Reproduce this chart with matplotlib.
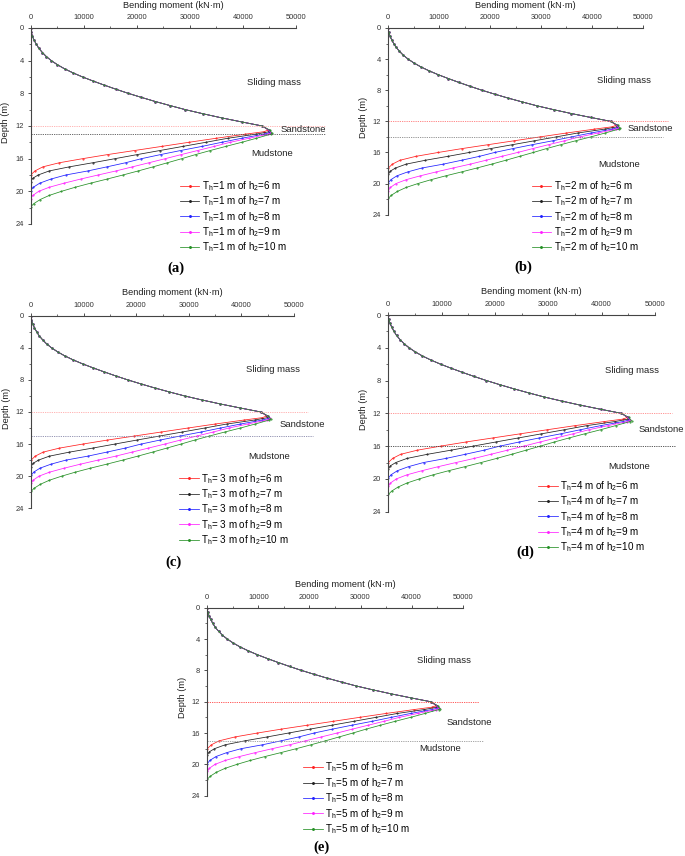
import matplotlib
matplotlib.use('Agg')
import matplotlib.pyplot as plt
from matplotlib.ticker import MultipleLocator

plt.rcParams['font.family'] = ['Liberation Sans', 'DejaVu Sans']
plt.rcParams['mathtext.fontset'] = 'custom'
plt.rcParams['mathtext.rm'] = 'Liberation Sans'
plt.rcParams['mathtext.it'] = 'Liberation Sans:italic'
plt.rcParams['mathtext.bf'] = 'Liberation Sans:bold'

# ---------------- data ----------------
# shared part of the curve in the sliding mass (depth m, moment kN·m)
upper_depth = [0, 0.5, 1, 1.5, 2, 2.5, 3, 3.5, 4, 4.5, 5, 5.5, 6, 6.5, 7, 7.5,
               8, 8.5, 9, 9.5, 10, 10.5, 11, 11.5, 12]
upper_moment = [0, 80, 320, 650, 1070, 1550, 2200, 2950, 3900, 5050, 6400, 8000,
                9800, 11800, 13900, 16100, 18400, 20900, 23500, 26300, 29200,
                32500, 36000, 39800, 43700]

h2_values = [6, 7, 8, 9, 10]
th_values = [1, 2, 3, 4, 5]
sliding_mass_bottom = 12

lower_depth_h6 = [12.5, 12.7, 13, 13.5, 14, 14.5, 15, 15.5, 16, 16.5, 17, 17.5, 18]
lower_moment_h6 = [44800, 44000, 40500, 35000, 29800, 24700, 19600, 14500, 9800, 5400, 2300, 800, 0]

lower_depth_h7 = [12.5, 12.7, 13, 13.5, 14, 14.5, 15, 15.5, 16, 16.5, 17, 17.5, 18, 18.4, 18.8]
lower_moment_h7 = [44900, 45000, 42500, 37200, 33000, 28700, 24400, 20100, 15900, 11700, 7300, 3500, 1400, 400, 0]

lower_depth_h8 = [12.5, 12.8, 13, 13.5, 14, 14.5, 15, 15.5, 16, 16.5, 17, 17.5, 18, 18.5, 19, 19.5, 19.9]
lower_moment_h8 = [45000, 45200, 44000, 39800, 36000, 32300, 28300, 24500, 20900, 17900, 14400, 10800, 6600, 3800, 1700, 500, 0]

lower_depth_h9 = [12.5, 12.8, 13, 13.5, 14, 14.5, 15, 15.5, 16, 16.5, 17, 17.5, 18, 18.5, 19, 19.5, 20, 20.5, 20.9]
lower_moment_h9 = [45000, 45400, 44800, 41200, 37600, 34600, 31500, 28400, 25400, 22300, 19200, 16100, 12700, 9400, 6300, 3500, 1500, 400, 0]

lower_depth_h10 = [12.5, 12.9, 13, 13.5, 14, 14.5, 15, 15.5, 16, 16.5, 17, 17.5, 18, 18.5, 19, 19.5, 20, 20.5, 21, 21.5, 21.9]
lower_moment_h10 = [45100, 45600, 45300, 42600, 39800, 36800, 33900, 31100, 28500, 25800, 23100, 20300, 17400, 14400, 11300, 8400, 5800, 3500, 1800, 600, 0]

lower_depths = [lower_depth_h6, lower_depth_h7, lower_depth_h8, lower_depth_h9, lower_depth_h10]
lower_moments = [lower_moment_h6, lower_moment_h7, lower_moment_h8, lower_moment_h9, lower_moment_h10]

series_colors = ['#ff2020', '#202020', '#2020ff', '#ff20ff', '#259025']

# ---------------- layout (pixels) ----------------
W, H = 685, 856
fig = plt.figure(figsize=(W / 100, H / 100), dpi=100)

panels = [
    dict(box=(30.7, 295.7, 28, 224), tag='(a)', tagpos=(176, 268), leg=(180, 185), sep='',
         notes=[(40800, 6.7), (47200, 12.4), (41700, 15.4)],
         lcol=('#ffaaaa', '#555555'), lend=(55500, 55500)),
    dict(box=(388.3, 642.7, 28, 214.7), tag='(b)', tagpos=(523, 267), leg=(531.7, 185), sep='',
         notes=[(41000, 6.8), (47100, 12.9), (41200, 17.5)],
         lcol=('#ff7777', '#888888'), lend=(55000, 54000)),
    dict(box=(31, 294, 315.7, 508.3), tag='(c)', tagpos=(173, 562), leg=(179.3, 477.7), sep=' ',
         notes=[(40800, 6.7), (47200, 13.5), (41300, 17.6)],
         lcol=('#ffaaaa', '#8888aa'), lend=(52600, 53600)),
    dict(box=(388.3, 655, 315, 511.7), tag='(d)', tagpos=(525, 552), leg=(538.3, 485), sep='',
         notes=[(40600, 6.8), (46900, 14.0), (41200, 18.5)],
         lcol=('#ff8888', '#444444'), lend=(53100, 53700)),
    dict(box=(207.3, 462.7, 607.7, 795.7), tag='(e)', tagpos=(321, 847), leg=(303.3, 766.7), sep='',
         notes=[(41000, 6.8), (46900, 14.7), (41400, 18.0)],
         lcol=('#ff4444', '#999999'), lend=(53200, 53900)),
]
note_texts = ['Sliding mass', 'Sandstone', 'Mudstone']

for p, th in zip(panels, th_values):
    x0, x1, y0, y1 = p['box']
    ax = fig.add_axes([x0 / W, 1 - y1 / H, (x1 - x0) / W, (y1 - y0) / H])
    handles = []
    for h2, ld, lm, c in zip(h2_values, lower_depths, lower_moments, series_colors):
        d = upper_depth + ld
        m = upper_moment + lm
        lab = 'T$_{\\rm h}$=' + p['sep'] + f'{th} m of h$_{{\\rm 2}}$={h2} m'
        ln, = ax.plot(m, d, color=c, lw=0.55, marker='.', markersize=1.0, label=lab)
        handles.append(ln)
    # layer boundaries
    ax.plot([0, p['lend'][0]], [sliding_mass_bottom] * 2, color=p['lcol'][0], lw=0.6,
            linestyle=(0, (1.5, 1.2)), clip_on=False)
    ax.plot([0, p['lend'][1]], [sliding_mass_bottom + th] * 2, color=p['lcol'][1], lw=0.6,
            linestyle=(0, (1.5, 1.2)), clip_on=False)
    for (nx, ny), t in zip(p['notes'], note_texts):
        ax.text(nx, ny, t, fontsize=6.8, ha='left', va='center', color='#222222', clip_on=False)

    ax.set_xlim(0, 50000)
    ax.set_ylim(24, 0)
    ax.xaxis.tick_top()
    ax.xaxis.set_major_locator(MultipleLocator(10000))
    ax.xaxis.set_minor_locator(MultipleLocator(5000))
    ax.yaxis.set_major_locator(MultipleLocator(4))
    ax.yaxis.set_minor_locator(MultipleLocator(2))
    ax.tick_params(which='major', direction='out', length=2.3, width=0.6, labelsize=5.4,
                   pad=2.8, colors='#333333')
    ax.tick_params(which='minor', direction='out', length=1.4, width=0.5, colors='#333333')
    for s in ('right', 'bottom'):
        ax.spines[s].set_visible(False)
    for s in ('left', 'top'):
        ax.spines[s].set_linewidth(0.8)
        ax.spines[s].set_color('#444444')
    ax.patch.set_alpha(0)

    wpx = x1 - x0
    hpx = y1 - y0
    ax.set_xlabel('Bending moment (kN·m)', fontsize=6.7, color='#222222')
    ax.xaxis.set_label_position('top')
    ax.xaxis.set_label_coords(0.5 + 10 / wpx, 1 + 23 / hpx)
    ax.xaxis.label.set_va('center')
    ax.set_ylabel('Depth (m)', fontsize=6.7, color='#222222')
    ax.yaxis.set_label_coords(-25 / wpx, 0.5 + 4 / hpx)
    ax.yaxis.label.set_va('center')

    lx, ly = p['leg']
    leg = ax.legend(handles=handles, loc='upper left',
                    bbox_to_anchor=(lx / W, 1 - (ly - 6) / H), bbox_transform=fig.transFigure,
                    frameon=False, fontsize=7.1, handlelength=1.95, handletextpad=0.3,
                    labelspacing=0.16, borderpad=0, borderaxespad=0, numpoints=1,
                    markerscale=2.2)
    tx, ty = p['tagpos']
    fig.text(tx / W, 1 - ty / H, p['tag'], fontsize=10.5, fontweight='bold',
             family='Liberation Serif', ha='center', va='center')

fig.savefig('out.png', dpi=100)
